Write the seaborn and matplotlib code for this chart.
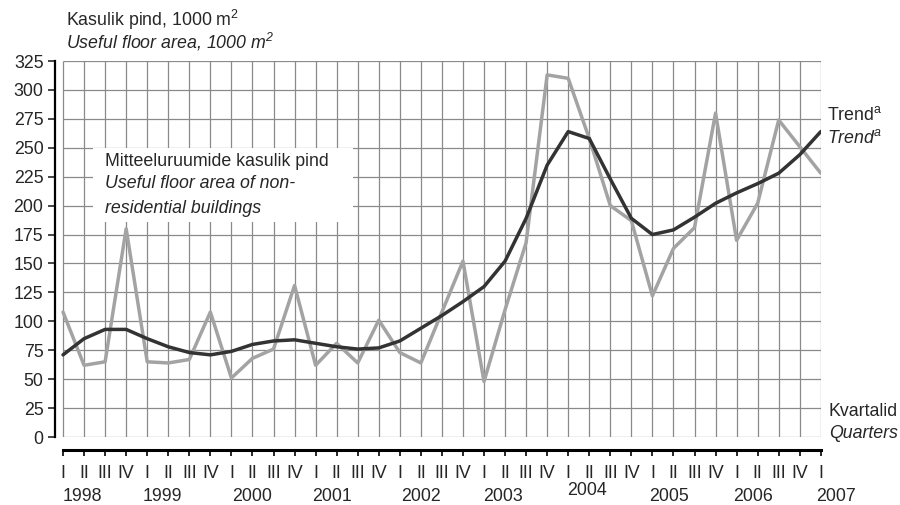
import matplotlib
matplotlib.use("Agg")
import matplotlib.pyplot as plt
import seaborn as sns
import numpy as np
import pandas as pd
from matplotlib.patches import Rectangle

# kvartalid 1998 I ... 2007 I
quarters = ["I", "II", "III", "IV"] * 9 + ["I"]
years = ["1998", "1999", "2000", "2001", "2002", "2003", "2004", "2005", "2006", "2007"]
year_pos = [0.9, 4.7, 9.0, 12.8, 17.0, 20.9, 24.9, 28.8, 32.8, 36.7]

floor_area = [108, 62, 65, 180,
              65, 64, 67, 108,
              51, 68, 76, 131,
              62, 81, 64, 101,
              73, 64, 108, 152,
              48, 110, 168, 313,
              310, 258, 200, 187,
              122, 163, 181, 280,
              170, 202, 274, 251,
              228]
trend = [71, 85, 93, 93,
         85, 78, 73, 71,
         74, 80, 83, 84,
         81, 78, 76, 77,
         83, 94, 105, 117,
         130, 152, 189, 235,
         264, 258, 223, 189,
         175, 179, 190, 202,
         211, 219, 228, 244,
         264]
yticks = list(range(0, 326, 25))

df = pd.DataFrame({"q": np.arange(len(trend)), "area": floor_area, "trend": trend})

sns.set_style("white")
plt.rcParams["font.family"] = ["Liberation Sans", "DejaVu Sans"]
plt.rcParams["mathtext.default"] = "regular"

fs = 12.8
fig = plt.figure(figsize=(9, 5.05), dpi=100)
ax = fig.add_axes([54.6 / 900, 1 - 437 / 505, 766.2 / 900, 376 / 505])

n = len(trend)
grid_c = "#8a8a8a"
ax.hlines(yticks, 0, n - 1, color=grid_c, lw=0.9, zorder=1)
ax.vlines(df["q"], 0, 325, color=grid_c, lw=0.9, zorder=1)

# valge silt
ax.add_patch(Rectangle((0.050, 0.572), 0.34, 0.197, transform=ax.transAxes,
                       facecolor="white", edgecolor="none", zorder=2))
ax.text(0.066, 0.734, "Mitteeluruumide kasulik pind", transform=ax.transAxes,
        fontsize=fs, va="center", zorder=3)
ax.text(0.066, 0.673, "Useful floor area of non-", transform=ax.transAxes,
        fontsize=fs, style="italic", va="center", zorder=3)
ax.text(0.066, 0.609, "residential buildings", transform=ax.transAxes,
        fontsize=fs, style="italic", va="center", zorder=3)

sns.lineplot(data=df, x="q", y="area", color="#a3a3a3", lw=2.5, ax=ax, zorder=4)
sns.lineplot(data=df, x="q", y="trend", color="#333333", lw=2.5, ax=ax, zorder=5)

ax.set_xlim(-0.4, n - 1)
ax.set_ylim(0, 325)
ax.set_xlabel("")
ax.set_ylabel("")

for s in ["top", "right"]:
    ax.spines[s].set_visible(False)
ax.spines["left"].set_linewidth(1.6)
ax.spines["left"].set_color("black")
ax.spines["bottom"].set_position(("outward", 9))
ax.spines["bottom"].set_bounds(0, n - 1)
ax.spines["bottom"].set_linewidth(2.2)
ax.spines["bottom"].set_color("black")

ax.set_yticks(yticks)
ax.set_xticks(df["q"])
ax.set_xticklabels(quarters)
ax.tick_params(axis="y", direction="out", length=5, width=1.2, labelsize=fs, pad=3, left=True)
ax.tick_params(axis="x", direction="out", length=4.5, width=1.4, labelsize=fs, pad=7, bottom=True)

for yr, xp in zip(years, year_pos):
    dy = 0.017 if yr == "2004" else 0
    ax.text(xp, -0.158 + dy, yr, transform=ax.get_xaxis_transform(), fontsize=fs,
            ha="center", va="center")

fig.text(66 / 900, 1 - 20 / 505, "Kasulik pind, 1000 m$^{2}$", fontsize=fs, va="center")
fig.text(66 / 900, 1 - 42 / 505, "Useful floor area, 1000 m$^{2}$", fontsize=fs,
         style="italic", va="center")
fig.text(827 / 900, 1 - 115 / 505, "Trend$^{a}$", fontsize=fs, va="center")
fig.text(827 / 900, 1 - 138 / 505, "Trend$^{a}$", fontsize=fs, style="italic", va="center")
fig.text(829 / 900, 1 - 412 / 505, "Kvartalid", fontsize=fs, va="center")
fig.text(829 / 900, 1 - 434 / 505, "Quarters", fontsize=fs, style="italic", va="center")

fig.savefig("out.png", dpi=100)
